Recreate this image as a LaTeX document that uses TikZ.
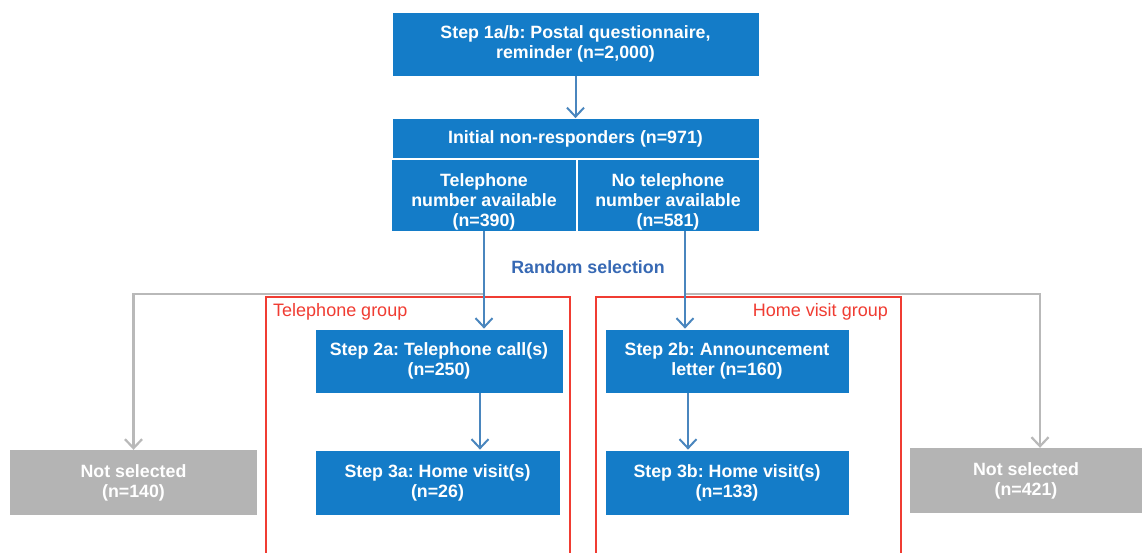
\documentclass[tikz,border=0pt]{standalone}
\usepackage{fontspec}
\setmainfont{Liberation Sans}
\usetikzlibrary{arrows.meta,calc}
\definecolor{boxblue}{RGB}{20,124,200}
\definecolor{arrblue}{RGB}{74,134,190}
\definecolor{txtblue}{RGB}{55,105,180}
\definecolor{boxgray}{RGB}{180,180,180}
\definecolor{linegray}{RGB}{185,185,185}
\definecolor{framered}{RGB}{240,60,50}
\frenchspacing
\begin{document}
\begin{tikzpicture}[x=1pt,y=-1pt,
  bbox/.style={fill=boxblue,draw=white,line width=0.8pt,text=white,font=\bfseries\fontsize{17.8}{20}\selectfont,align=center,inner sep=0pt},
  gbox/.style={fill=boxgray,text=white,font=\bfseries\fontsize{17.8}{20}\selectfont,align=center,inner sep=0pt},
  btext/.style={text=white,font=\bfseries\fontsize{17.8}{20}\selectfont,align=center,inner sep=0pt},
  arr/.style={draw=arrblue,line width=2pt,-{Straight Barb[length=9pt,width=17pt,line width=2pt]}},
  garr/.style={draw=linegray,line width=2.2pt,-{Straight Barb[length=9pt,width=17pt,line width=2.2pt]}},
  frame/.style={draw=framered,line width=1.6pt},
  glabel/.style={text=framered,font=\fontsize{18}{20}\selectfont,inner sep=0pt}]
\useasboundingbox (0,0) rectangle (1142,552);
\clip (0,0) rectangle (1142,552);
\fill[white] (0,0) rectangle (1142,552);

% frames
\draw[frame] (266,297) rectangle (570,562);
\draw[frame] (596,297) rectangle (901,562);
\node[glabel,anchor=west] (lg) at (273,312) {Telephone group};
\node[glabel,anchor=east] (rg) at (888,312) {Home visit group};

% top boxes
\node[bbox,minimum width=367pt,minimum height=64pt] (s1) at (575.5,44) {Step 1a/b: Postal questionnaire,\\reminder (n=2,000)};
\node[bbox,minimum width=367pt,minimum height=40pt] (init) at (575.5,138.5) {Initial non-responders (n=971)};
\node[bbox,minimum width=185pt,minimum height=72pt] (tel) at (484,195) {};
\node[bbox,minimum width=182pt,minimum height=72pt] (notel) at (668,195) {};
\begin{scope}
\clip (tel.north west) rectangle (notel.south east);
\node[btext] (telt) at (484,202) {Telephone\\number available\\(n=390)};
\node[btext] (notelt) at (668,202) {No telephone\\number available\\(n=581)};
\end{scope}

\node[text=txtblue,font=\bfseries\fontsize{17.8}{20}\selectfont] (rs) at (588,267) {Random selection};

% step boxes
\node[bbox,minimum width=248pt,minimum height=64pt] (s2a) at (439,361) {Step 2a: Telephone call(s)\\(n=250)};
\node[bbox,minimum width=245pt,minimum height=65pt] (s3a) at (437.5,482.5) {Step 3a: Home visit(s)\\(n=26)};
\node[bbox,minimum width=244pt,minimum height=64pt] (s2b) at (727,361) {Step 2b: Announcement\\letter (n=160)};
\node[bbox,minimum width=244pt,minimum height=65pt] (s3b) at (727,482.5) {Step 3b: Home visit(s)\\(n=133)};

% not selected
\node[gbox,minimum width=247pt,minimum height=65pt] (ns1) at (133.5,482.5) {Not selected\\(n=140)};
\node[gbox,minimum width=232pt,minimum height=65pt] (ns2) at (1026,480.5) {Not selected\\(n=421)};

% connectors
\draw[arr] (s1.south) -- (init.north);
\coordinate (bl) at (484,294);
\coordinate (br) at (685,294);
\draw[garr] (bl) -| (ns1.north);
\draw[garr] (br) -| ([xshift=14pt]ns2.north);
\draw[arr] (tel.south) -- (tel.south |- s2a.north);
\draw[arr] ([xshift=17pt]notel.south) -- ([xshift=17pt]notel.south |- s2b.north);
\draw[arr] ([xshift=41pt]s2a.south) -- ([xshift=41pt]s2a.south |- s3a.north);
\draw[arr] ([xshift=-39pt]s2b.south) -- ([xshift=-39pt]s2b.south |- s3b.north);
\end{tikzpicture}
\end{document}
